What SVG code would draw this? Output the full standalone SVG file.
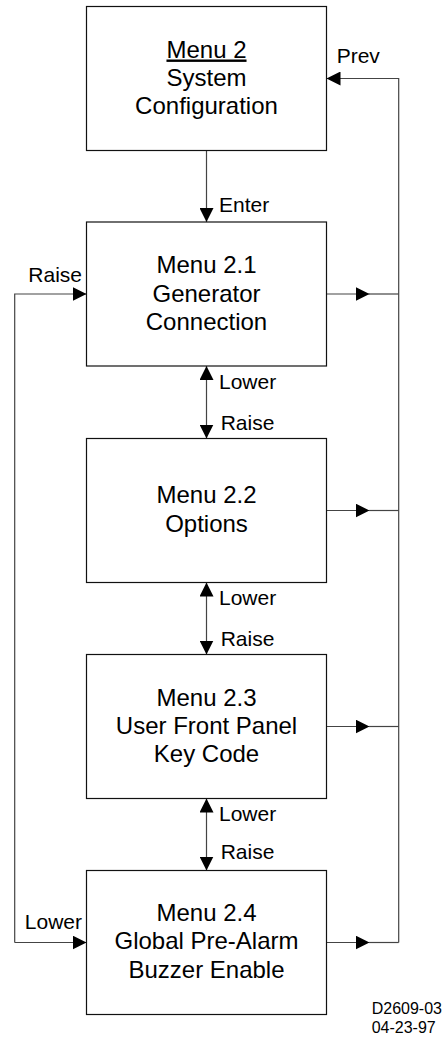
<svg xmlns="http://www.w3.org/2000/svg" width="445" height="1038" viewBox="0 0 445 1038">
<style>
.box{fill:#fff;stroke:#111;stroke-width:1.2}
.t{font-family:"Liberation Sans",Arial,sans-serif;font-size:24px;fill:#000;text-anchor:middle}
.l{font-family:"Liberation Sans",Arial,sans-serif;font-size:21px;fill:#000}
.c{fill:none;stroke:#444;stroke-width:1.2}
.s{font-family:"Liberation Sans",Arial,sans-serif;font-size:16px;fill:#000}
</style>
<defs>
<marker id="ah" markerWidth="14" markerHeight="14" viewBox="0 0 14 14" refX="14" refY="7" orient="auto-start-reverse" markerUnits="userSpaceOnUse">
<path d="M0,0 L14,7 L0,14 Z" fill="#000"/>
</marker>
</defs>
<g id="connectors">
<path class="c" d="M206.5,150.5 V222" marker-end="url(#ah)"/>
<path class="c" d="M206.5,366 V438.5" marker-start="url(#ah)" marker-end="url(#ah)"/>
<path class="c" d="M206.5,582.5 V654.5" marker-start="url(#ah)" marker-end="url(#ah)"/>
<path class="c" d="M206.5,798.5 V870.5" marker-start="url(#ah)" marker-end="url(#ah)"/>
<path class="c" d="M398.7,942.5 V78.5 H326.5" marker-end="url(#ah)"/>
<path class="c" d="M326.5,294 H369.5" marker-end="url(#ah)"/>
<path class="c" d="M369,294 H398.7"/>
<path class="c" d="M326.5,510.5 H369.5" marker-end="url(#ah)"/>
<path class="c" d="M369,510.5 H398.7"/>
<path class="c" d="M326.5,726.5 H369.5" marker-end="url(#ah)"/>
<path class="c" d="M369,726.5 H398.7"/>
<path class="c" d="M326.5,942.5 H369.5" marker-end="url(#ah)"/>
<path class="c" d="M369,942.5 H398.7"/>
<path class="c" d="M14.7,942.5 V294 H86.5" marker-end="url(#ah)"/>
<path class="c" d="M14.7,942.5 H86.5" marker-end="url(#ah)"/>
<text class="l" x="219" y="211.7">Enter</text>
<text class="l" x="336.7" y="63.3">Prev</text>
<text class="l" x="82" y="281.7" text-anchor="end">Raise</text>
<text class="l" x="82" y="929.3" text-anchor="end">Lower</text>
<text class="l" x="219" y="389.3">Lower</text>
<text class="l" x="220.7" y="430">Raise</text>
<text class="l" x="219" y="605">Lower</text>
<text class="l" x="220.7" y="645.7">Raise</text>
<text class="l" x="219" y="821">Lower</text>
<text class="l" x="220.7" y="859">Raise</text>
</g>
<g id="menu2">
<rect class="box" x="86.5" y="6.5" width="240" height="144"/>
<text class="t" x="206.5" y="57.5" text-decoration="underline">Menu 2</text>
<text class="t" x="206.5" y="85.5">System</text>
<text class="t" x="206.5" y="114">Configuration</text>
</g>
<g id="menu21">
<rect class="box" x="86.5" y="222" width="240" height="144"/>
<text class="t" x="206.5" y="273.3">Menu 2.1</text>
<text class="t" x="206.5" y="301.7">Generator</text>
<text class="t" x="206.5" y="330">Connection</text>
</g>
<g id="menu22">
<rect class="box" x="86.5" y="438.5" width="240" height="144"/>
<text class="t" x="206.5" y="502.7">Menu 2.2</text>
<text class="t" x="206.5" y="531.7">Options</text>
</g>
<g id="menu23">
<rect class="box" x="86.5" y="654.5" width="240" height="144"/>
<text class="t" x="206.5" y="705.5">Menu 2.3</text>
<text class="t" x="206.5" y="734">User Front Panel</text>
<text class="t" x="206.5" y="762">Key Code</text>
</g>
<g id="menu24">
<rect class="box" x="86.5" y="870.5" width="240" height="144"/>
<text class="t" x="206.5" y="921">Menu 2.4</text>
<text class="t" x="206.5" y="949.3">Global Pre-Alarm</text>
<text class="t" x="206.5" y="977.5">Buzzer Enable</text>
</g>
<g id="footer">
<text class="s" x="371.7" y="1014.3">D2609-03</text>
<text class="s" x="371.7" y="1033.3">04-23-97</text>
</g>
</svg>
